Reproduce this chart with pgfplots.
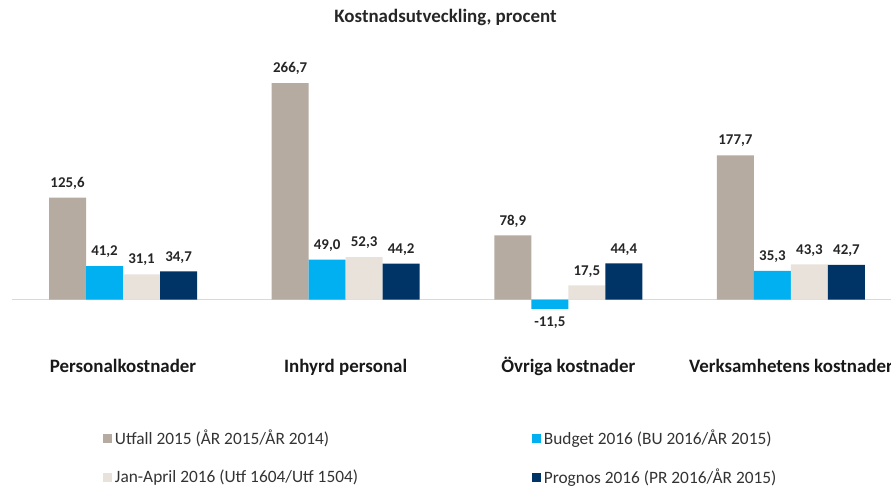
\documentclass[border=0pt]{standalone}
\usepackage{fontspec}
\setmainfont{Carlito}
\usepackage{pgfplots}
\pgfplotsset{compat=1.18}
\definecolor{cUtf}{RGB}{181,171,161}
\definecolor{cBud}{RGB}{0,176,240}
\definecolor{cJan}{RGB}{232,226,218}
\definecolor{cPro}{RGB}{0,51,102}
\begin{document}
\begin{tikzpicture}
\node[font=\bfseries\fontsize{14.2}{17}\selectfont, text=black!85] at (334.1pt,352.5pt) {Kostnadsutveckling, procent};
\begin{axis}[
  at={(8.78pt,104.1pt)}, anchor=south west,
  scale only axis, width=667.95pt, height=219.15pt,
  xmin=-0.5, xmax=3.5, ymin=-60, ymax=300,
  axis line style={draw=none}, tick style={draw=none},
  ytick=\empty, xtick={0,1,2,3},
  xticklabels={Personalkostnader, Inhyrd personal, Övriga kostnader, Verksamhetens kostnader},
  xticklabel style={font=\bfseries\fontsize{14.2}{17}\selectfont, text=black!90, text height=10.5pt, text depth=3pt},
  ybar=0pt, bar width=27.75pt,
  clip=false,
  nodes near coords={\pgfmathprintnumber[fixed,fixed zerofill,precision=1,use comma,assume math mode=true]{\pgfplotspointmeta}},
  every node near coord/.append style={font=\bfseries\fontsize{11.2}{13}\selectfont, text=black!85, inner ysep=6pt},
  legend columns=2,
  legend style={at={(0.1025,-0.270)}, anchor=north west, draw=none, fill=none, inner sep=0pt,
    font=\fontsize{13}{15}\selectfont, text=black!80, row sep=12.75pt,
    /tikz/every even column/.append style={column sep=128.5pt}},
  legend cell align=left,
  legend image code/.code={\fill[#1] (0pt,-3.4pt) rectangle (6.8pt,3.4pt);},
]
\draw[color=black!15, line width=1.1pt] (axis cs:-0.5,0) -- (axis cs:3.5,0);
\addplot[fill=cUtf, draw=none] coordinates {(0,125.6) (1,266.7) (2,78.9) (3,177.7)};
\addlegendentry{Utfall 2015 (ÅR 2015/ÅR 2014)}
\addplot[fill=cBud, draw=none] coordinates {(0,41.2) (1,49.0) (2,-11.5) (3,35.3)};
\addlegendentry{Budget 2016 (BU 2016/ÅR 2015)}
\addplot[fill=cJan, draw=none] coordinates {(0,31.1) (1,52.3) (2,17.5) (3,43.3)};
\addlegendentry{Jan-April 2016 (Utf 1604/Utf 1504)}
\addplot[fill=cPro, draw=none] coordinates {(0,34.7) (1,44.2) (2,44.4) (3,42.7)};
\addlegendentry{Prognos 2016 (PR 2016/ÅR 2015)}
\end{axis}
\pgfresetboundingbox
\path[use as bounding box] (0,0) rectangle (668.25pt,365.25pt);
\end{tikzpicture}
\end{document}
